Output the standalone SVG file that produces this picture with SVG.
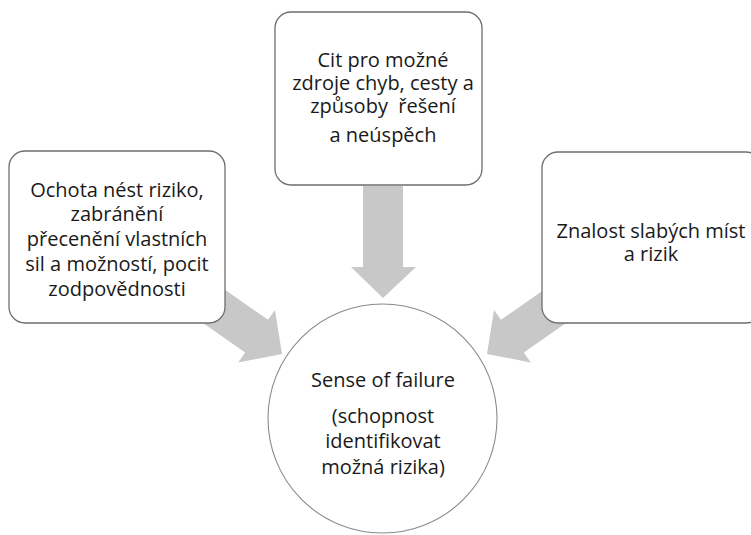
<svg xmlns="http://www.w3.org/2000/svg" width="751" height="535" viewBox="0 0 751 535">
<defs>
<style>
.box{fill:#ffffff;stroke:#6e6e6e;stroke-width:1.3}
.circ{fill:#ffffff;stroke:#8a8a8a;stroke-width:1.1}
.arrow{fill:#c8c8c8;stroke:none}
text{font-family:"Open Sans","DejaVu Sans",sans-serif;font-size:20px;fill:#1a1a1a;text-anchor:middle}
</style>
<polygon id="arr" points="-20,-131 20,-131 20,-31 32,-31 0,0 -32,-31 -20,-31"/>
</defs>
<rect width="751" height="535" fill="#ffffff"/>
<g id="connectors">
<polygon class="arrow" points="363,186 403,186 403,267 416,267 383,298 351,267 363,267"/>
<use href="#arr" class="arrow" transform="translate(282,354) rotate(-55)"/>
<use href="#arr" class="arrow" transform="translate(487,354) rotate(55)"/>
</g>
<g id="node-top">
<rect class="box" x="275" y="12" width="207" height="173" rx="16"/>
<text x="383" y="67">Cit pro možné</text>
<text x="383" y="90">zdroje chyb, cesty a</text>
<text x="383" y="113" xml:space="preserve">způsoby  řešení</text>
<text x="383" y="142">a neúspěch</text>
</g>
<g id="node-left">
<rect class="box" x="9" y="151" width="216" height="172" rx="16"/>
<text x="117" y="197">Ochota nést riziko,</text>
<text x="117" y="221">zabránění</text>
<text x="117" y="246">přecenění vlastních</text>
<text x="117" y="271">sil a možností, pocit</text>
<text x="117" y="296">zodpovědnosti</text>
</g>
<g id="node-right">
<rect class="box" x="542" y="152" width="220" height="171" rx="16"/>
<text x="651" y="238">Znalost slabých míst</text>
<text x="651" y="261">a rizik</text>
</g>
<g id="node-center">
<circle class="circ" cx="382.5" cy="418.5" r="114.5"/>
<text x="383" y="387">Sense of failure</text>
<text x="383" y="423">(schopnost</text>
<text x="383" y="448">identifikovat</text>
<text x="383" y="474">možná rizika)</text>
</g>
</svg>
